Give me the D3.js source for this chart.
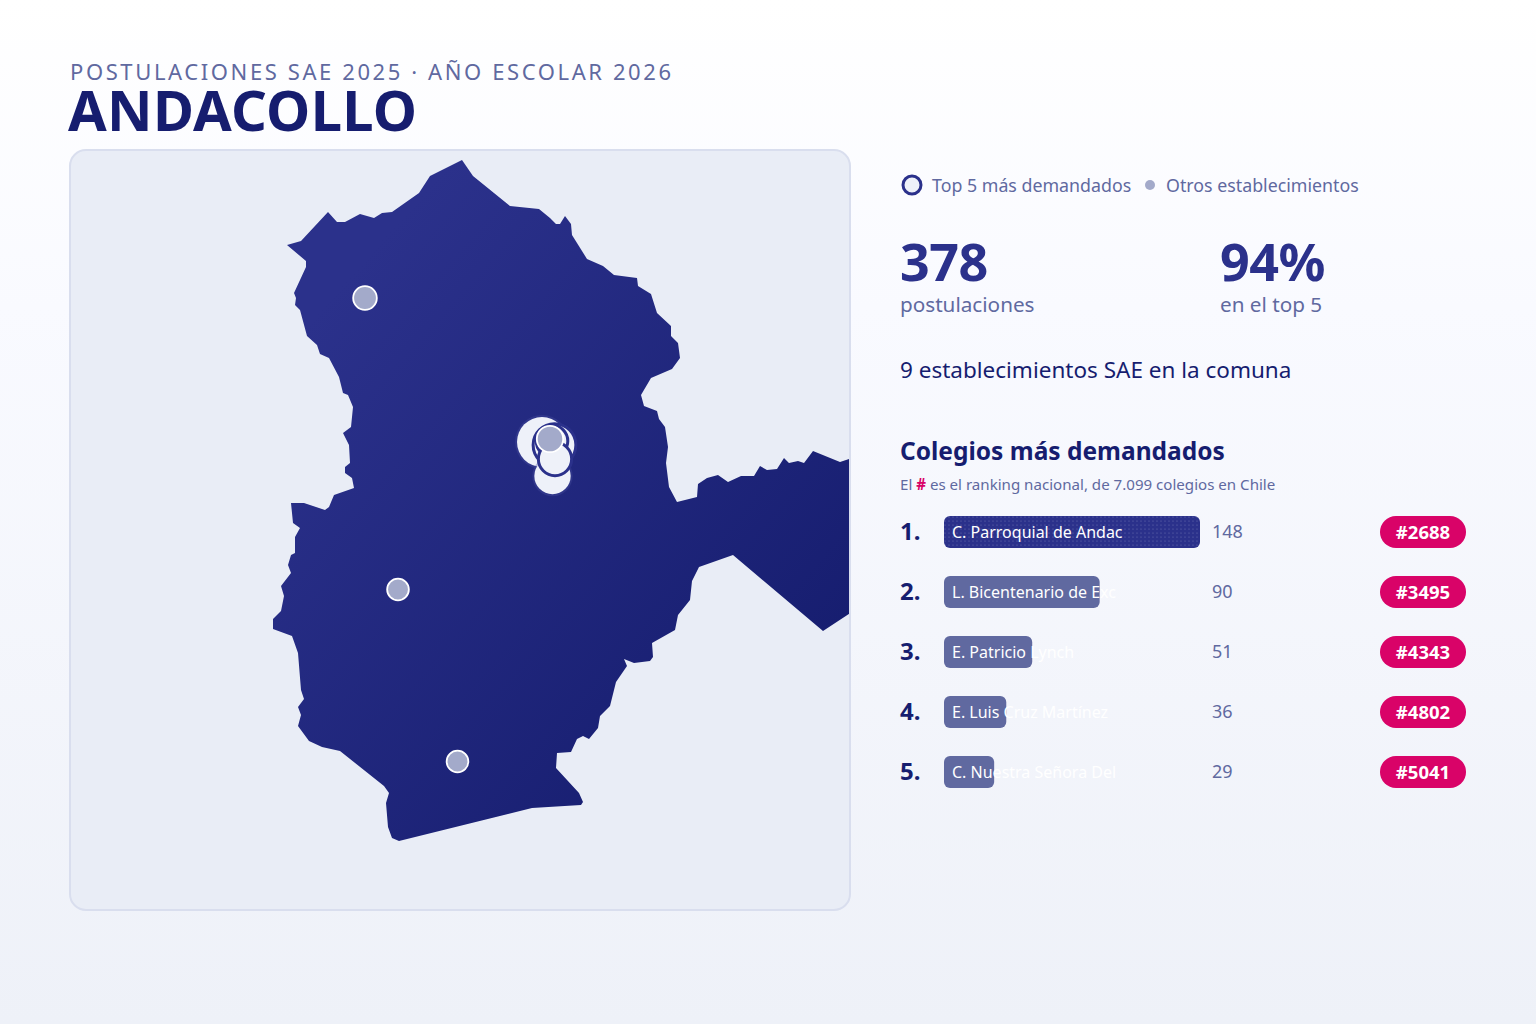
<!DOCTYPE html>
<html>
<head>
<meta charset="utf-8">
<script src="https://cdn.jsdelivr.net/npm/d3@7"></script>
<style>
html, body { margin: 0; padding: 0; background: #fff; }
svg { display: block; }
text { font-family: "Noto Sans", sans-serif; }
</style>
</head>
<body>
<svg id="chart"></svg>
<script>
var width = 1536, height = 1024;

var subtitle = "POSTULACIONES SAE 2025 · AÑO ESCOLAR 2026";
var comuna = "ANDACOLLO";
var legendLabels = ["Top 5 más demandados", "Otros establecimientos"];
var statValues = ["378", "94%"];
var statLabels = ["postulaciones", "en el top 5"];
var summary = "9 establecimientos SAE en la comuna";
var listTitle = "Colegios más demandados";

var schoolNames = ["C. Parroquial de Andac", "L. Bicentenario de Exc", "E. Patricio Lynch", "E. Luis Cruz Martínez", "C. Nuestra Señora Del"];
var schoolValues = [148, 90, 51, 36, 29];
var schoolRanks = ["#2688", "#3495", "#4343", "#4802", "#5041"];

// map units: panel is 780 x 760
var schoolPoints = [[472, 292], [484.5, 295], [482.5, 326], [485, 309], [482, 291]];
var otherPoints = [[480, 289], [295, 148], [328, 439.5], [387.5, 611.5]];
var otherValues = [12, 6, 3, 3];

var outline = [
	[392,10],[403,26],[440,56],[469,59],[480,68],[486,74],[490,74],[495,66],[501,74],[502,85],
	[517,109],[533,116],[544,125],[567,128],[568,136],[581,144],[587,163],[601,176],[601,186],[608,193],
	[610,208],[602,219],[581,228],[571,245],[574,256],[587,261],[589,269],[595,277],[598,297],[596,313],
	[599,337],[607,352],[627,347],[628,334],[637,328],[648,325],[658,332],[671,326],[684,326],[690,316],
	[697,320],[707,319],[714,308],[719,313],[728,311],[734,313],[743,301],[770,312],[779,309],[800,302],
	[800,450],[753,481],[663,405],[629,417],[622,431],[620,450],[608,465],[605,480],[582,493],[583,507],
	[580,511],[564,513],[554,509],[557,516],[546,532],[540,556],[530,566],[528,578],[519,589],[513,586],
	[507,589],[501,602],[487,603],[486,618],[509,643],[513,652],[511,655],[462,658],[329,691],[322,688],
	[318,677],[316,653],[319,643],[314,636],[270,601],[252,597],[239,591],[228,576],[231,565],[228,557],
	[234,549],[231,540],[228,503],[222,486],[203,479],[203,469],[211,461],[214,446],[211,436],[221,423],
	[218,415],[221,405],[225,403],[225,387],[230,378],[223,373],[221,353],[234,353],[255,360],[259,357],
	[264,345],[284,338],[282,328],[275,323],[275,317],[280,313],[279,295],[273,283],[281,277],[283,257],
	[278,245],[273,243],[269,227],[259,208],[250,204],[247,195],[237,186],[230,160],[225,155],[226,148],
	[224,143],[236,117],[236,111],[217,95],[231,91],[258,62],[267,72],[275,72],[290,64],[304,68],
	[312,63],[322,62],[349,43],[360,26]
];

var colors = {
	navy: "#161d6f",
	blue: "#2b318b",
	muted: "#6069a0",
	grey: "#a3aaca",
	pink: "#d90368",
	light: "#eef1f9"
};

var svg = d3.select("#chart").attr("width", width).attr("height", height)
	.attr("viewBox", "0 0 " + width + " " + height);
var defs = svg.append("defs");

var bgGrad = defs.append("linearGradient").attr("id", "bg").attr("x1", 0).attr("y1", 0).attr("x2", 0).attr("y2", 1);
bgGrad.append("stop").attr("offset", "0%").attr("stop-color", "#ffffff");
bgGrad.append("stop").attr("offset", "30%").attr("stop-color", "#f9faff");
bgGrad.append("stop").attr("offset", "100%").attr("stop-color", "#eef1f8");

var mapGrad = defs.append("linearGradient").attr("id", "mapFill").attr("x1", 0).attr("y1", 0).attr("x2", 1).attr("y2", 1);
mapGrad.append("stop").attr("offset", "15%").attr("stop-color", colors.blue);
mapGrad.append("stop").attr("offset", "85%").attr("stop-color", colors.navy);

// fine stipple seen on the first bar
var dots = defs.append("pattern").attr("id", "dots").attr("width", 4).attr("height", 4)
	.attr("patternUnits", "userSpaceOnUse");
dots.append("circle").attr("cx", 1).attr("cy", 1).attr("r", 0.6).attr("fill", "#ffffff").attr("opacity", 0.3);

svg.append("rect").attr("width", width).attr("height", height).attr("fill", "url(#bg)");

// header
svg.append("text").attr("x", 70).attr("y", 80).attr("font-size", 22).attr("letter-spacing", 2.6)
	.attr("fill", colors.muted).text(subtitle);
svg.append("text").attr("x", 68).attr("y", 131).attr("font-size", 56).attr("font-weight", 700)
	.attr("letter-spacing", 0.3).attr("fill", colors.navy).text(comuna);

// map panel
var panel = {x: 70, y: 150, w: 780, h: 760};
var xMap = d3.scaleLinear().domain([0, panel.w]).range([panel.x, panel.x + panel.w]);
var yMap = d3.scaleLinear().domain([0, panel.h]).range([panel.y, panel.y + panel.h]);
var rMap = d3.scaleSqrt().domain([0, 148]).range([8.5, 25]);

defs.append("clipPath").attr("id", "panelClip").append("rect")
	.attr("x", panel.x).attr("y", panel.y).attr("width", panel.w).attr("height", panel.h).attr("rx", 16);

svg.append("rect").attr("x", panel.x).attr("y", panel.y).attr("width", panel.w).attr("height", panel.h)
	.attr("rx", 16).attr("fill", "#e9edf6");

var mapG = svg.append("g").attr("clip-path", "url(#panelClip)");
var line = d3.line().x(d => xMap(d[0])).y(d => yMap(d[1])).curve(d3.curveLinearClosed);
mapG.append("path").datum(outline).attr("d", line).attr("fill", "url(#mapFill)");

svg.append("rect").attr("x", panel.x).attr("y", panel.y).attr("width", panel.w).attr("height", panel.h)
	.attr("rx", 16).attr("fill", "none").attr("stroke", "#d9deee").attr("stroke-width", 2);

// top five, biggest first; ranks 2, 4 and 5 carry the dark ring
var drawOrder = [0, 2, 1, 4, 3];
var ringed = [1, 3, 4];
drawOrder.forEach(function(i) {
	var p = schoolPoints[i];
	var g = mapG.append("g");
	g.append("circle").attr("cx", xMap(p[0])).attr("cy", yMap(p[1])).attr("r", rMap(schoolValues[i]) + 2)
		.attr("fill", "#4a50a0").attr("opacity", ringed.includes(i) ? 0 : 0.35);
	g.append("circle").attr("cx", xMap(p[0])).attr("cy", yMap(p[1])).attr("r", rMap(schoolValues[i]))
		.attr("fill", colors.light)
		.attr("stroke", ringed.includes(i) ? colors.blue : "none")
		.attr("stroke-width", 3);
});

mapG.selectAll("circle.other").data(otherPoints).enter().append("circle")
	.attr("class", "other")
	.attr("cx", d => xMap(d[0]))
	.attr("cy", d => yMap(d[1]))
	.attr("r", (d, i) => rMap(otherValues[i]))
	.attr("fill", colors.grey)
	.attr("stroke", "#ffffff")
	.attr("stroke-width", 1.8);

// legend
svg.append("circle").attr("cx", 912).attr("cy", 185).attr("r", 9).attr("fill", colors.light)
	.attr("stroke", colors.blue).attr("stroke-width", 3);
svg.append("text").attr("x", 932).attr("y", 192).attr("font-size", 17.8).attr("fill", colors.muted).text(legendLabels[0]);
svg.append("circle").attr("cx", 1150).attr("cy", 185).attr("r", 5).attr("fill", colors.grey);
svg.append("text").attr("x", 1166).attr("y", 192).attr("font-size", 17.8).attr("fill", colors.muted).text(legendLabels[1]);

// stats
var statX = d3.scalePoint().domain(d3.range(statValues.length)).range([900, 1220]);
svg.selectAll("text.stat").data(statValues).enter().append("text").attr("class", "stat")
	.attr("x", (d, i) => statX(i)).attr("y", 281).attr("font-size", 52).attr("font-weight", 700)
	.attr("letter-spacing", -0.5).attr("fill", colors.blue).text(d => d);
svg.selectAll("text.statLabel").data(statLabels).enter().append("text").attr("class", "statLabel")
	.attr("x", (d, i) => statX(i)).attr("y", 312).attr("font-size", 20.7)
	.attr("fill", colors.muted).text(d => d);

svg.append("text").attr("x", 900).attr("y", 378).attr("font-size", 22.5).attr("fill", colors.navy).text(summary);
svg.append("text").attr("x", 900).attr("y", 460).attr("font-size", 24.5).attr("font-weight", 700)
	.attr("fill", colors.navy).text(listTitle);

var note = svg.append("text").attr("x", 900).attr("y", 490).attr("font-size", 15.1).attr("fill", colors.muted);
note.append("tspan").text("El ");
note.append("tspan").attr("font-weight", 700).attr("fill", colors.pink).text("#");
note.append("tspan").text(" es el ranking nacional, de 7.099 colegios en Chile");

// ranking rows
var xBar = d3.scaleLinear().domain([0, 148]).range([0, 256]);
var yRow = d3.scaleBand().domain(d3.range(schoolValues.length)).range([516, 816]).paddingInner(0);

var rows = svg.selectAll("g.row").data(schoolValues).enter().append("g").attr("class", "row")
	.attr("transform", (d, i) => "translate(0," + yRow(i) + ")");

rows.append("text").attr("x", 900).attr("y", 24).attr("font-size", 24).attr("font-weight", 700)
	.attr("fill", colors.navy).text((d, i) => (i + 1) + ".");
rows.append("rect").attr("x", 944).attr("width", d => xBar(d)).attr("height", 32).attr("rx", 6)
	.attr("fill", (d, i) => i === 0 ? colors.blue : colors.muted);
rows.filter((d, i) => i === 0).append("rect").attr("x", 944).attr("width", d => xBar(d)).attr("height", 32).attr("rx", 6)
	.attr("fill", "url(#dots)");
rows.append("text").attr("x", 952).attr("y", 22).attr("font-size", 16).attr("fill", "#ffffff")
	.text((d, i) => schoolNames[i]);
rows.append("text").attr("x", 1212).attr("y", 22).attr("font-size", 18).attr("fill", colors.muted).text(d => d);
rows.append("rect").attr("x", 1380).attr("width", 86).attr("height", 32).attr("rx", 16).attr("fill", colors.pink);
rows.append("text").attr("x", 1423).attr("y", 23).attr("text-anchor", "middle").attr("font-size", 18.5)
	.attr("font-weight", 700).attr("fill", "#ffffff").text((d, i) => schoolRanks[i]);
</script>
</body>
</html>
